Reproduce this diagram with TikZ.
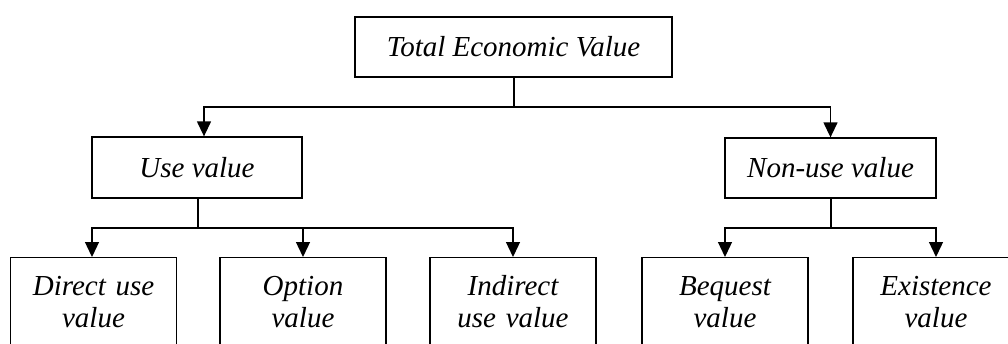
\documentclass[tikz,border=0pt]{standalone}
\usepackage{fontspec}
\setmainfont{Liberation Serif}
\usetikzlibrary{arrows.meta}
\begin{document}
\begin{tikzpicture}[x=1pt,y=-1pt,
  box/.style={draw, line width=1.3pt, inner sep=0pt, font=\fontsize{29}{32}\selectfont\itshape},
  leaf/.style={draw, line width=1.3pt, anchor=north, minimum width=166pt, text width=150pt, inner xsep=8pt, inner ysep=18pt, align=center, font=\fontsize{29}{32}\selectfont\itshape},
  conn/.style={line width=1.3pt},
  arr/.style={line width=1.3pt, -{Triangle[length=15pt,width=14pt]}}]
\useasboundingbox (0,0) rectangle (1008,343);
\clip (0,0) rectangle (1008,343);
\node[box, minimum width=317pt, minimum height=60pt] (tev) at (513.5,47) {Total Economic Value};
\node[box, minimum width=210pt, minimum height=61pt] (use) at (197,167.5) {Use value};
\node[box, minimum width=211pt, minimum height=60pt] (non) at (830.5,168) {Non-use value};
\node[leaf] (dir) at (93.5,257) {\rule{0pt}{20pt}Direct use\\value};
\node[leaf] (opt) at (303,257) {\rule{0pt}{20pt}Option\\value};
\node[leaf] (ind) at (513,257) {\rule{0pt}{20pt}Indirect\\use value};
\node[leaf] (beq) at (725,257) {\rule{0pt}{20pt}Bequest\\value};
\node[leaf] (exi) at (936,257) {\rule{0pt}{20pt}Existence\\value};
\coordinate (j1) at (514,107);
\coordinate (j2) at (198,228);
\coordinate (j3) at (831,228);
\draw[conn] (tev.south -| j1) -- (j1);
\draw[arr] (j1) -| ([xshift=7pt]use.north);
\draw[arr] (j1) -| (non.north);
\draw[conn] (use.south -| j2) -- (j2);
\draw[arr] (j2) -| (dir.north -| 92,0);
\draw[arr] (j2) -| (opt.north);
\draw[arr] (j2) -| (ind.north);
\draw[conn] (non.south -| j3) -- (j3);
\draw[arr] (j3) -| (beq.north);
\draw[arr] (j3) -| (exi.north);
\end{tikzpicture}
\end{document}
